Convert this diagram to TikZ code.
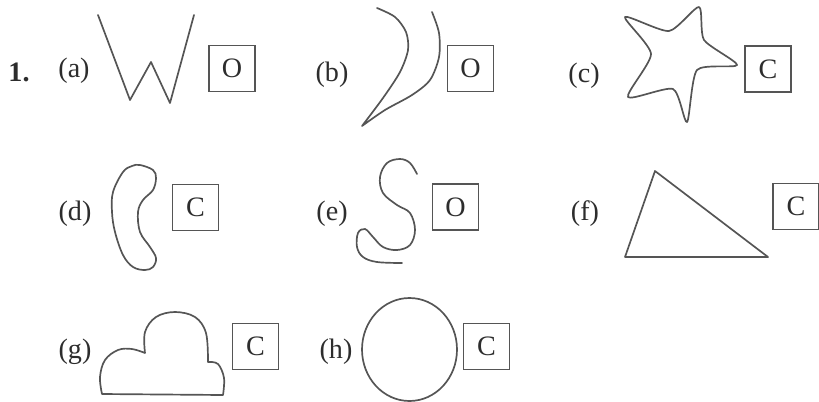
\documentclass[tikz,border=0pt]{standalone}
\usepackage{fontspec}
\setmainfont{Liberation Serif}
\usetikzlibrary{positioning}
\definecolor{inkgray}{RGB}{85, 85, 85}
\definecolor{textgray}{RGB}{45, 45, 45}

\begin{document}
\begin{tikzpicture}[
	x=0.025cm, y=-0.025cm,
	font=\fontsize{20}{24}\selectfont,
	% Styles
	shapeline/.style={draw=inkgray, line width=1.2pt, line join=round, line cap=round},
	ansbox/.style={draw=inkgray, line width=1.1pt, minimum size=1.15cm, inner sep=0pt, text=textgray},
	itemlabel/.style={text=textgray, inner sep=0pt}
	]
	\useasboundingbox (0, 0) rectangle (819, 401);
	
	% ==========================================
	% ROW 1: (a) (b) (c)
	% ==========================================
	\node[itemlabel, font=\fontsize{20}{24}\selectfont\bfseries] (numOne) at (19, 72) {1.};
	
	% (a) zig-zag
	\node[itemlabel] (labA) at (74, 71) {(a)};
	\draw[shapeline] (98, 15) -- (130, 100) -- (151, 62) -- (170, 103) -- (194, 15);
	\node[ansbox] (boxA) at (232, 68.5) {O};
	
	% (b) two arcs meeting at a tip
	\node[itemlabel] (labB) at (332, 75) {(b)};
	\draw[shapeline] plot[smooth, tension=0.5] coordinates {(377, 8) (395, 17) (406, 32) (408, 50) (400, 72) (383, 98) (362, 126)}
		-- plot[smooth, tension=0.5] coordinates {(362, 126) (385, 110) (412, 95) (430, 80) (439, 57) (439, 33) (432, 12)};
	\node[ansbox] (boxB) at (470.5, 68.5) {O};
	
	% (c) star
	\node[itemlabel] (labC) at (584, 76) {(c)};
	\draw[shapeline] plot[smooth cycle, tension=0.4] coordinates {(625, 17) (669, 31) (699, 7) (704, 40) (737, 65) (697, 70) (687, 122) (673, 89) (628, 97) (651, 54)};
	\node[ansbox] (boxC) at (768, 69) {C};
	
	% ==========================================
	% ROW 2: (d) (e) (f)
	% ==========================================
	
	% (d) bean
	\node[itemlabel] (labD) at (75, 214) {(d)};
	\draw[shapeline] plot[smooth cycle, tension=0.6] coordinates {(140, 165) (153, 170) (156, 178) (153, 190) (143, 200) (138, 212) (140, 232) (150, 247) (156, 258) (153, 267) (145, 270) (133, 267) (123, 255) (115, 232) (112, 212) (113, 192) (123, 172) (132, 166)};
	\node[ansbox] (boxD) at (195.5, 207.5) {C};
	
	% (e) open S-curve
	\node[itemlabel] (labE) at (332, 214) {(e)};
	\draw[shapeline] plot[smooth, tension=0.6] coordinates {(417, 174) (410, 163) (400, 159) (387, 163) (380, 177) (383, 193) (397, 205) (410, 213) (415, 230) (410, 245) (397, 250) (383, 247) (373, 237) (365, 229) (358, 233) (357, 247) (363, 257) (377, 262) (402, 263)};
	\node[ansbox] (boxE) at (455.5, 207) {O};
	
	% (f) triangle
	\node[itemlabel] (labF) at (585, 214) {(f)};
	\draw[shapeline] (655, 171) -- (625, 257) -- (768, 257) -- cycle;
	\node[ansbox] (boxF) at (796, 206.5) {C};
	
	% ==========================================
	% ROW 3: (g) (h)
	% ==========================================
	
	% (g) cloud
	\node[itemlabel] (labG) at (75, 352) {(g)};
	\draw[shapeline] plot[smooth, tension=0.6] coordinates {(102, 394) (100, 377) (105, 360) (118, 350) (132, 349) (145, 353)}
		-- plot[smooth, tension=0.6] coordinates {(145, 353) (145, 332) (156, 317) (175, 312) (195, 317) (206, 333) (208, 362)}
		-- plot[smooth, tension=0.6] coordinates {(208, 362) (218, 364) (224, 378) (223, 395)}
		-- cycle;
	\node[ansbox] (boxG) at (255.5, 346.5) {C};
	
	% (h) oval
	\node[itemlabel] (labH) at (336, 352) {(h)};
	\draw[shapeline] (409.5, 349.5) ellipse [x radius=47.5, y radius=51.5];
	\node[ansbox] (boxH) at (486.5, 346.5) {C};
	
\end{tikzpicture}
\end{document}
